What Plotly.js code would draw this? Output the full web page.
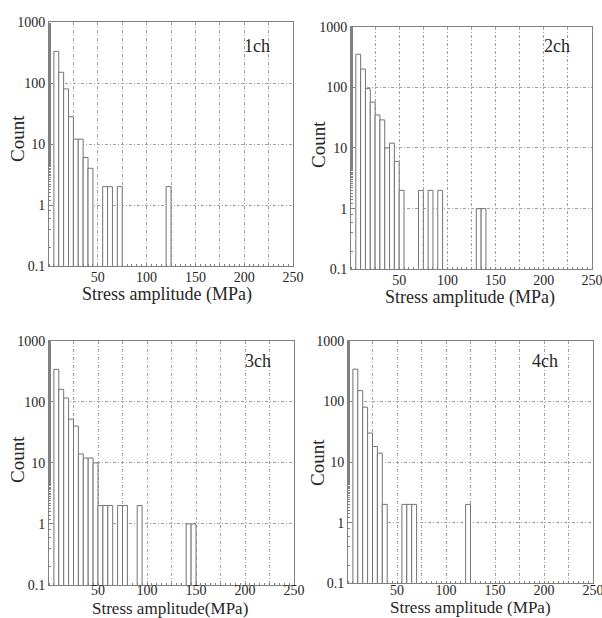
<!DOCTYPE html>
<html>
<head>
<meta charset="utf-8">
<script src="https://cdn.plot.ly/plotly-3.0.1.min.js"></script>
<style>html,body{margin:0;padding:0;background:#fff;}#chart{width:602px;height:618px;}</style>
</head>
<body>
<div id="chart"></div>
<script>
// Bin centres (MPa) and counts for each channel
const ch1Stress = [7.5, 12.5, 17.5, 22.5, 27.5, 32.5, 37.5, 42.5, 57.5, 62.5, 72.5, 122.5];
const ch1Count  = [330, 150, 80, 28, 12, 12, 6, 4, 2, 2, 2, 2];

const ch2Stress = [7.5, 12.5, 17.5, 22.5, 27.5, 32.5, 37.5, 42.5, 47.5, 52.5, 72.5, 82.5, 92.5, 132.5, 137.5];
const ch2Count  = [350, 200, 95, 57, 35, 29, 10, 12, 6, 2, 2, 2, 2, 1, 1];

const ch3Stress = [7.5, 12.5, 17.5, 22.5, 27.5, 32.5, 37.5, 42.5, 47.5, 52.5, 57.5, 62.5, 72.5, 77.5, 92.5, 142.5, 147.5];
const ch3Count  = [340, 160, 115, 52, 40, 14, 12, 12, 10, 2, 2, 2, 2, 2, 2, 1, 1];

const ch4Stress = [7.5, 12.5, 17.5, 22.5, 27.5, 32.5, 37.5, 57.5, 62.5, 67.5, 122.5];
const ch4Count  = [340, 150, 80, 30, 18, 14, 2, 2, 2, 2, 2];

const panelLabels = ['1ch', '2ch', '3ch', '4ch'];
const xTitles = ['Stress amplitude (MPa)', 'Stress amplitude (MPa)', 'Stress amplitude(MPa)', 'Stress amplitude (MPa)'];
const yTitle = 'Count';
const xTickVals = [25, 50, 75, 100, 125, 150, 175, 200, 225, 250];
const xTickText = ['', '50', '', '100', '', '150', '', '200', '', '250'];
const yTickVals = [0.1, 1, 10, 100, 1000];
const yTickText = ['0.1', '1', '10', '100', '1000'];

const FONT = 'Liberation Serif, DejaVu Serif, serif';
const TXT = '#262626';
const BAR_LINE = '#747474';
const GRID = '#a0a0a0';
const FRAME = '#808080';
const BINW = 5;

const series = [
  [ch1Stress, ch1Count],
  [ch2Stress, ch2Count],
  [ch3Stress, ch3Count],
  [ch4Stress, ch4Count]
];

const W = 602, H = 618;
// panel boxes in pixels: [x0, x1, yTop, yBottom]
const boxes = [
  [49, 293, 22, 266],
  [351, 592, 26.6, 269.3],
  [49, 294, 340.7, 585],
  [348, 593, 340.7, 583.3]
];
// text positions in pixels (centres)
const labelPos  = [[257, 46], [557, 46], [258, 361], [545, 361]];
const xTitlePos = [[167, 294], [470, 298], [170, 608], [470, 607.5]];
const xTitleSize = [18, 18, 17, 17];
const yTitlePos = [[17, 139], [318, 145], [17, 460], [317, 462]];
const tickStandoff = [-2, -2, -8, -6];

const px = v => v / W;
const py = v => 1 - v / H;

const traces = [];
const layout = {
  width: W, height: H,
  margin: {l: 0, r: 0, t: 0, b: 0},
  paper_bgcolor: '#fff', plot_bgcolor: '#fff',
  showlegend: false,
  bargap: 0,
  font: {family: FONT, color: TXT, size: 14},
  annotations: []
};

series.forEach((s, i) => {
  const n = i + 1;
  const sfx = n === 1 ? '' : String(n);
  traces.push({
    type: 'bar',
    x: s[0], y: s[1],
    width: BINW,
    xaxis: 'x' + sfx,
    yaxis: 'y' + sfx,
    marker: {color: '#ffffff', line: {color: BAR_LINE, width: 1}},
    hoverinfo: 'x+y'
  });
  const b = boxes[i];
  layout['xaxis' + sfx] = {
    domain: [px(b[0]), px(b[1])],
    anchor: 'y' + sfx,
    range: [0, 250],
    tickvals: xTickVals, ticktext: xTickText,
    ticks: '', ticklabeloverflow: 'allow', ticklabelstandoff: tickStandoff[i],
    showgrid: true, gridcolor: GRID, griddash: '3px,2px,1px,2px', gridwidth: 1,
    showline: true, mirror: true, linecolor: FRAME, linewidth: 1,
    zeroline: false,
    minor: {dtick: 5, ticks: 'inside', ticklen: 2, tickcolor: FRAME, showgrid: false},
    tickfont: {family: FONT, size: 14, color: TXT},
    fixedrange: true
  };
  layout['yaxis' + sfx] = {
    domain: [py(b[3]), py(b[2])],
    anchor: 'x' + sfx,
    type: 'log',
    range: [-1, 3],
    tickvals: yTickVals, ticktext: yTickText,
    ticks: 'inside', ticklen: 4, tickcolor: FRAME,
    showgrid: true, gridcolor: GRID, griddash: '3px,2px,1px,2px', gridwidth: 1,
    showline: true, mirror: true, linecolor: FRAME, linewidth: 1,
    zeroline: false,
    minor: {ticks: 'inside', ticklen: 2, tickcolor: FRAME, showgrid: false},
    tickfont: {family: FONT, size: 14, color: TXT},
    fixedrange: true
  };
  layout.annotations.push({
    text: panelLabels[i], xref: 'paper', yref: 'paper',
    x: px(labelPos[i][0]), y: py(labelPos[i][1]),
    xanchor: 'center', yanchor: 'middle', showarrow: false,
    font: {family: FONT, size: 18, color: TXT}
  });
  layout.annotations.push({
    text: xTitles[i], xref: 'paper', yref: 'paper',
    x: px(xTitlePos[i][0]), y: py(xTitlePos[i][1]),
    xanchor: 'center', yanchor: 'middle', showarrow: false, borderpad: 0,
    font: {family: FONT, size: xTitleSize[i], color: TXT}
  });
  layout.annotations.push({
    text: yTitle, xref: 'paper', yref: 'paper', textangle: -90,
    x: px(yTitlePos[i][0]), y: py(yTitlePos[i][1]),
    xanchor: 'center', yanchor: 'middle', showarrow: false,
    font: {family: FONT, size: 19, color: TXT}
  });
});

Plotly.newPlot('chart', traces, layout, {displayModeBar: false, staticPlot: true});
</script>
</body>
</html>
